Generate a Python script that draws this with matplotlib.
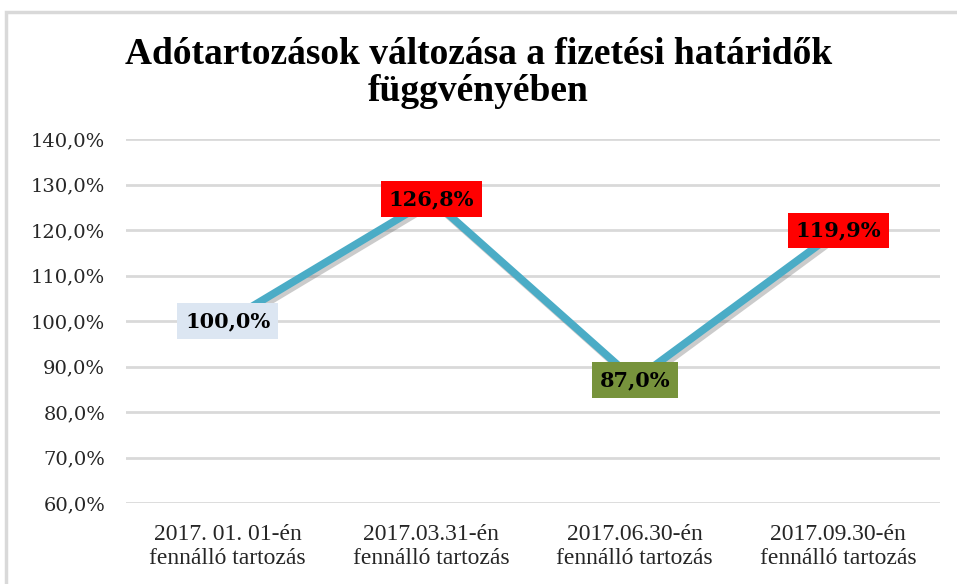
import matplotlib
matplotlib.use("Agg")
import matplotlib.pyplot as plt
import matplotlib.patheffects as pe
from matplotlib.patches import Rectangle
from matplotlib.ticker import FuncFormatter, MultipleLocator

# adatok
categories = [
    "2017. 01. 01-én\nfennálló tartozás",
    "2017.03.31-én\nfennálló tartozás",
    "2017.06.30-én\nfennálló tartozás",
    "2017.09.30-én\nfennálló tartozás",
]
values = [100.0, 126.8, 87.0, 119.9]
label_colors = ["#DCE6F2", "#FF0000", "#77933C", "#FF0000"]

title = "Adótartozások változása a fizetési határidők\nfüggvényében"

plt.rcParams['font.family'] = ['Liberation Serif', 'DejaVu Serif']
wide = ['DejaVu Serif', 'Liberation Serif']

fig = plt.figure(figsize=(9.57, 5.84), dpi=100)
ax = fig.add_axes([126 / 957, 1 - 503 / 584, 814 / 957, 364 / 584])

# külső keret
fig.patches.append(Rectangle((6 / 957, -0.1), 1.2, 1 - 12 / 584 + 0.1,
                             transform=fig.transFigure, fill=False,
                             edgecolor="#D9D9D9", linewidth=2.5))

x = list(range(len(values)))
ax.plot(x, values, color="#4BACC6", linewidth=5.5, solid_capstyle="butt",
        path_effects=[pe.SimpleLineShadow(offset=(2, -2.5), shadow_color="#555555", alpha=0.3),
                      pe.Normal()], zorder=3)

for xi, v, c in zip(x, values, label_colors):
    txt = f"{v:.1f}%".replace(".", ",")
    ax.text(xi, v, txt, ha="center", va="center", fontsize=15, fontweight="bold",
            family=wide, color="black", zorder=5,
            bbox=dict(boxstyle="square,pad=0.38", facecolor=c, edgecolor="none"))

ax.set_xlim(-0.5, 3.5)
ax.set_ylim(60, 140)
ax.yaxis.set_major_locator(MultipleLocator(10))
ax.yaxis.set_major_formatter(FuncFormatter(lambda v, p: f"{v:.1f}%".replace(".", ",")))
ax.set_xticks(x)
ax.set_xticklabels(categories, fontsize=17, linespacing=1.22)
for t in ax.get_yticklabels():
    t.set_family(wide)
ax.tick_params(axis="y", length=0, pad=15, labelsize=14, labelcolor="#262626")
ax.tick_params(axis="x", length=0, pad=15, labelcolor="#262626")

ax.grid(axis="y", color="#D9D9D9", linewidth=2)
ax.set_axisbelow(True)
for s in ax.spines.values():
    s.set_visible(False)

fig.text(0.5, 1 - 73 / 584, title, ha="center", va="center", fontsize=27,
         fontweight="bold", linespacing=1.05)

fig.savefig("out.png", dpi=100)
